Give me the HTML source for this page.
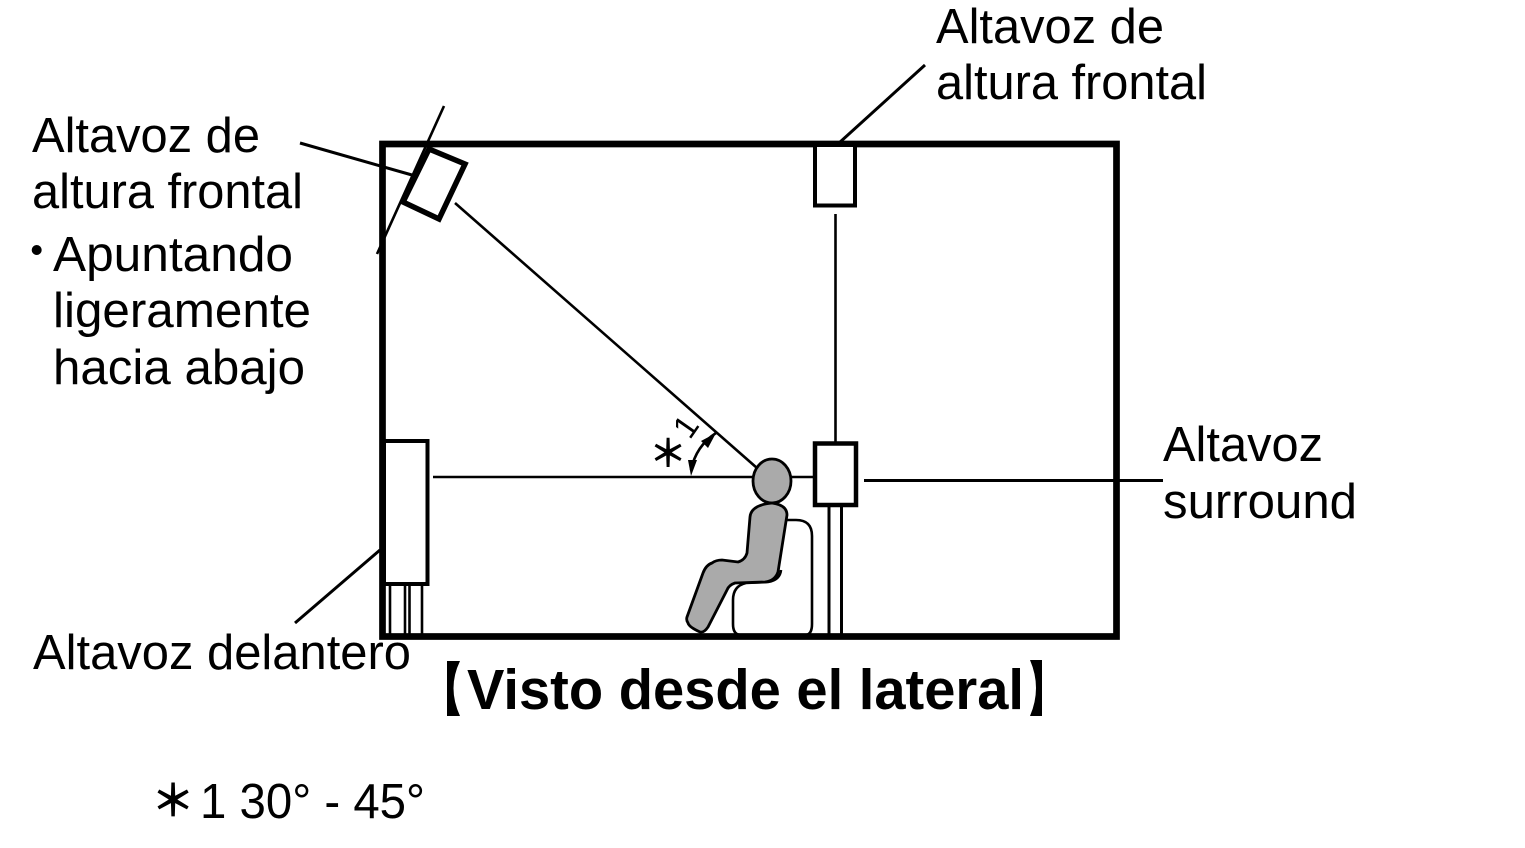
<!DOCTYPE html>
<html><head><meta charset="utf-8"><style>html,body{margin:0;padding:0;background:#fff}svg{display:block}text{font-family:"Liberation Sans",sans-serif;font-size:49px;fill:#000}.s{font-family:"Noto Sans CJK JP",sans-serif;font-weight:700}</style></head><body>
<svg width="1525" height="848" viewBox="0 0 1525 848" xmlns="http://www.w3.org/2000/svg">
<rect x="382.500" y="144" width="734" height="492.500" fill="none" stroke="#000" stroke-width="6.700"/>
<polygon points="429,149 465,164 439,219 403,202" fill="#fff" stroke="#000" stroke-width="5.500"/>
<rect x="815" y="145" width="40" height="60.500" fill="#fff" stroke="#000" stroke-width="4"/>
<rect x="815" y="443.500" width="41" height="61.500" fill="#fff" stroke="#000" stroke-width="4.500"/>
<rect x="384" y="441" width="43.500" height="143" fill="#fff" stroke="#000" stroke-width="4"/>
<g fill="none" stroke="#000" stroke-width="2.600">
<line x1="444" y1="106" x2="377" y2="254"/>
<line x1="300" y1="143" x2="412" y2="175" stroke-width="3"/>
<line x1="455" y1="203" x2="757" y2="468"/>
<line x1="925" y1="65" x2="839" y2="143" stroke-width="3"/>
<line x1="835.500" y1="214" x2="835.500" y2="443"/>
<line x1="433" y1="477" x2="755" y2="477"/>
<line x1="791" y1="477" x2="815" y2="477"/>
<line x1="864" y1="480.500" x2="1163" y2="480.500" stroke-width="3"/>
<line x1="380" y1="550" x2="295" y2="623" stroke-width="3"/>
<line x1="390" y1="585" x2="390" y2="634"/>
<line x1="405" y1="585" x2="405" y2="634"/>
<line x1="409.500" y1="585" x2="409.500" y2="634"/>
<line x1="422" y1="585" x2="422" y2="634"/>
<line x1="829" y1="505" x2="829" y2="634" stroke-width="3"/>
<line x1="841.500" y1="505" x2="841.500" y2="634" stroke-width="3"/>
<path d="M716 433 Q696 446 691 470"/>
<path d="M786 520 L796 520 Q812 520 812 536 L812 624 Q812 635 805 635 L741 635 Q733 635 733 624 L733 600 Q733 586 746 583 L768 582 Q780 580 781 570"/>
</g>
<polygon points="716,433 701,441 708,448" fill="#000"/>
<polygon points="691,476 688,460 697,460" fill="#000"/>
<g fill="#aaa" stroke="#000" stroke-width="2.800">
<ellipse cx="772" cy="481" rx="19" ry="22"/>
<path d="M750 517 Q751 505 772 503 Q787 505 787 515 L778 572 Q775 581 765 582 L735 583 Q729 585 727 590 L708 627 Q704 633 700 632 Q689 627 688 623 Q686 620 687 617 L703 573 Q706 565 712 563 Q716 560 722 560 L738 562 Q745 560 747 553 Z"/>
</g>
<text x="32" y="152" textLength="228" lengthAdjust="spacingAndGlyphs">Altavoz de</text>
<text x="32" y="208" textLength="271" lengthAdjust="spacingAndGlyphs">altura frontal</text>
<circle cx="36.700" cy="250" r="5" fill="#000"/>
<text x="53" y="271" textLength="240" lengthAdjust="spacingAndGlyphs">Apuntando</text>
<text x="53" y="327" textLength="258" lengthAdjust="spacingAndGlyphs">ligeramente</text>
<text x="53" y="384" textLength="252" lengthAdjust="spacingAndGlyphs">hacia abajo</text>
<text x="936" y="43" textLength="228" lengthAdjust="spacingAndGlyphs">Altavoz de</text>
<text x="936" y="99" textLength="271" lengthAdjust="spacingAndGlyphs">altura frontal</text>
<text x="1163" y="461" textLength="160" lengthAdjust="spacingAndGlyphs">Altavoz</text>
<text x="1163" y="518" textLength="194" lengthAdjust="spacingAndGlyphs">surround</text>
<text x="33" y="669" textLength="378" lengthAdjust="spacingAndGlyphs">Altavoz delantero</text>
<text x="467" y="709" textLength="557" lengthAdjust="spacingAndGlyphs" style="font-weight:bold;font-size:57px">Visto desde el lateral</text>
<path d="M447 661 H460 Q447 688 460 716 H447Z M1042 660 H1030 Q1042 688 1030 716 H1042Z" fill="#000"/>
<text x="200" y="818" textLength="225" lengthAdjust="spacingAndGlyphs">1 30° - 45°</text>
<text class="s" x="173" y="816" text-anchor="middle" style="font-size:44px">＊</text>
<text class="s" x="668" y="467" text-anchor="middle" style="font-size:38px">＊</text>
<text transform="translate(695,433) rotate(-55)" text-anchor="middle" style="font-size:33px">1</text>
</svg>
</body></html>
